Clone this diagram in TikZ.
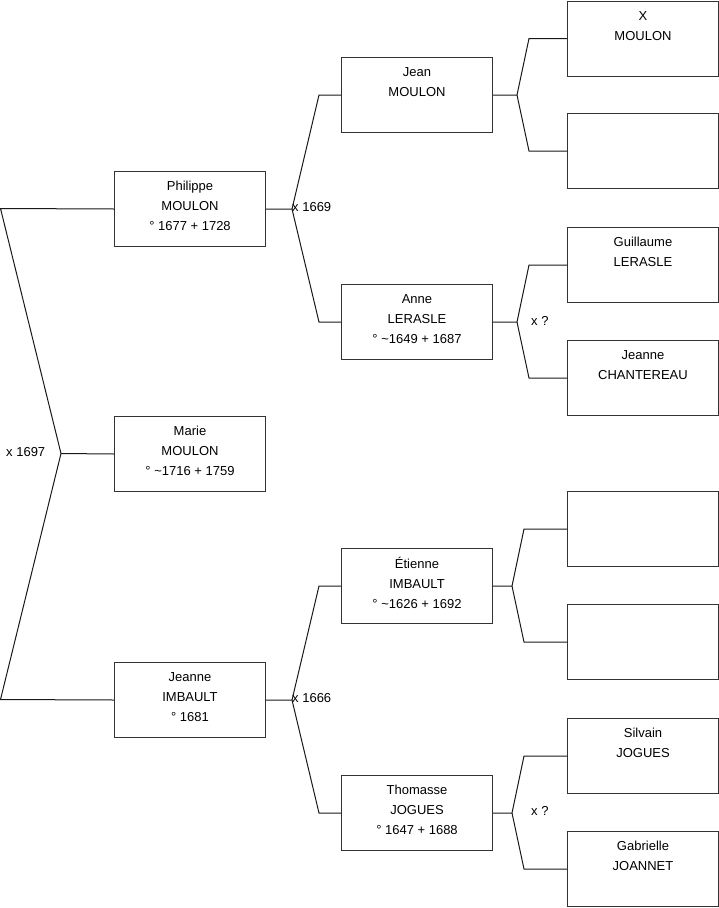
\documentclass[tikz,border=0pt]{standalone}
\usepackage{fontspec}
\setmainfont{Liberation Sans}
\begin{document}
\begin{tikzpicture}[x=1pt,y=-1pt,
  person/.style={draw=black!80, line width=1pt, minimum width=151pt, minimum height=75pt,
    inner sep=0pt, align=center, font=\fontsize{13}{20}\selectfont, anchor=north west,
    execute at begin node=\rule{0pt}{10pt}, execute at end node=\rule[-5.6pt]{0pt}{0pt}},
  link/.style={draw=black!90, line width=1pt},
  lbl/.style={font=\fontsize{13}{15}\selectfont, inner sep=0pt, anchor=west}]
\useasboundingbox (0,0) rectangle (719,908);
% generation 1
\node[person] (phil) at (114,171) {Philippe\\MOULON\\° 1677 + 1728};
\node[person] (marie) at (114,416) {Marie\\MOULON\\° \textasciitilde1716 + 1759};
\node[person] (jeanne) at (114,662) {Jeanne\\IMBAULT\\° 1681};
% generation 2
\node[person] (jean) at (341,57) {Jean\\MOULON\\};
\node[person] (anne) at (341,284) {Anne\\LERASLE\\° \textasciitilde1649 + 1687};
\node[person] (etienne) at (341,548) {Étienne\\IMBAULT\\° \textasciitilde1626 + 1692};
\node[person] (thomasse) at (341,775) {Thomasse\\JOGUES\\° 1647 + 1688};
% generation 3
\node[person] (xm) at (567,0.5) {X\\MOULON\\};
\node[person] (e1) at (567,113) {};
\node[person] (guil) at (567,227) {Guillaume\\LERASLE\\};
\node[person] (chant) at (567,340) {Jeanne\\CHANTEREAU\\};
\node[person] (e2) at (567,491) {};
\node[person] (e3) at (567,604) {};
\node[person] (silv) at (567,718) {Silvain\\JOGUES\\};
\node[person] (gab) at (567,831) {Gabrielle\\JOANNET\\};
% root fork
\coordinate (a) at (0.5,208.5);
\coordinate (am) at (61,453.5);
\coordinate (ab) at (0.5,699.5);
\draw[link] (phil.west) -- (a) -- (am) -- (ab) -- (jeanne.west);
\draw[link] (am) -- (marie.west);
\node[lbl] (l1) at (6,452) {x 1697};
% Philippe fork
\draw[link] (phil.east) -- ++(26,0) coordinate (f1) -- ([xshift=-22pt]jean.west) -- (jean.west);
\draw[link] (f1) -- ([xshift=-22pt]anne.west) -- (anne.west);
\node[lbl] (l2) at (292,207) {x 1669};
% Jean fork
\draw[link] (jean.east) -- ++(24,0) coordinate (f2) -- ([xshift=-38pt]xm.west) -- (xm.west);
\draw[link] (f2) -- ([xshift=-38pt]e1.west) -- (e1.west);
% Anne fork
\draw[link] (anne.east) -- ++(24,0) coordinate (f3) -- ([xshift=-38pt]guil.west) -- (guil.west);
\draw[link] (f3) -- ([xshift=-38pt]chant.west) -- (chant.west);
\node[lbl] (l3) at (531,321) {x ?};
% Jeanne fork
\draw[link] (jeanne.east) -- ++(26,0) coordinate (f4) -- ([xshift=-22pt]etienne.west) -- (etienne.west);
\draw[link] (f4) -- ([xshift=-22pt]thomasse.west) -- (thomasse.west);
\node[lbl] (l4) at (292,698) {x 1666};
% Etienne fork
\draw[link] (etienne.east) -- ++(19,0) coordinate (f5) -- ([xshift=-43pt]e2.west) -- (e2.west);
\draw[link] (f5) -- ([xshift=-43pt]e3.west) -- (e3.west);
% Thomasse fork
\draw[link] (thomasse.east) -- ++(19,0) coordinate (f6) -- ([xshift=-43pt]silv.west) -- (silv.west);
\draw[link] (f6) -- ([xshift=-43pt]gab.west) -- (gab.west);
\node[lbl] (l5) at (531,811) {x ?};
\end{tikzpicture}
\end{document}
